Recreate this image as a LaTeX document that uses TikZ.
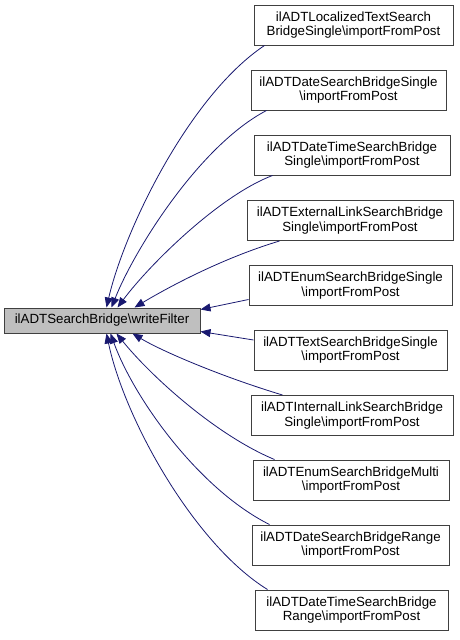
\documentclass[tikz,border=0pt]{standalone}
\usepackage{fontspec}
\setmainfont{Liberation Sans}
\usetikzlibrary{arrows.meta}
\definecolor{edgeblue}{HTML}{191970}
\definecolor{boxgray}{HTML}{BFBFBF}
\definecolor{linegray}{HTML}{404040}

\begin{document}
\begin{tikzpicture}[x=1pt, y=-1pt,
    >={Triangle[length=10pt,width=8pt]},
    fn/.style={draw=linegray, line width=1pt, fill=white, align=center, minimum height=40pt,
        inner sep=0pt, font=\fontsize{13.3}{14.5}\selectfont},
    call/.style={<-, draw=edgeblue, line width=0.8pt}]
\useasboundingbox (0,0) rectangle (459,640);

    % caller
    \node[fn, fill=boxgray, minimum width=196pt, minimum height=25pt] (wf) at (102,320.5)
        {ilADTSearchBridge\textbackslash writeFilter};

    % callees
    \node[fn, minimum width=199pt] (b1) at (353.5,25) {ilADTLocalizedTextSearch\\BridgeSingle\textbackslash importFromPost};
    \node[fn, minimum width=195pt] (b2) at (348.5,90) {ilADTDateSearchBridgeSingle\\\textbackslash importFromPost};
    \node[fn, minimum width=196pt] (b3) at (352,155) {ilADTDateTimeSearchBridge\\Single\textbackslash importFromPost};
    \node[fn, minimum width=206pt] (b4) at (350,220.5) {ilADTExternalLinkSearchBridge\\Single\textbackslash importFromPost};
    \node[fn, minimum width=203pt] (b5) at (350.5,285.5) {ilADTEnumSearchBridgeSingle\\\textbackslash importFromPost};
    \node[fn, minimum width=193pt] (b6) at (350.5,350) {ilADTTextSearchBridgeSingle\\\textbackslash importFromPost};
    \node[fn, minimum width=202pt] (b7) at (352,415.5) {ilADTInternalLinkSearchBridge\\Single\textbackslash importFromPost};
    \node[fn, minimum width=196pt] (b8) at (351,480) {ilADTEnumSearchBridgeMulti\\\textbackslash importFromPost};
    \node[fn, minimum width=197pt] (b9) at (350.5,545) {ilADTDateSearchBridgeRange\\\textbackslash importFromPost};
    \node[fn, minimum width=193pt] (b10) at (351.5,610) {ilADTDateTimeSearchBridge\\Range\textbackslash importFromPost};

    % edges above
    \draw[call] ([xshift=103pt]wf.north west) .. controls +(18,-78) and +(-75,50) .. ([xshift=11pt]b1.south west);
    \draw[call] ([xshift=108pt]wf.north west) .. controls +(23,-58) and +(-67,35) .. ([xshift=16pt]b2.south west);
    \draw[call] ([xshift=114pt]wf.north west) .. controls +(32,-43) and +(-53,20) .. ([xshift=19pt]b3.south west);
    \draw[call] ([xshift=131pt]wf.north west) .. controls +(30,-18) and +(-60,18) .. ([xshift=33pt]b4.south west);
    \draw[call] ([yshift=-2pt]wf.north east) -- ([yshift=-14pt]b5.west);
    \draw[call] ([yshift=2pt]wf.south east) -- ([yshift=10pt]b6.west);

    % edges below
    \draw[call] ([xshift=129pt]wf.south west) .. controls +(30,18) and +(-60,-18) .. ([xshift=32pt]b7.north west);
    \draw[call] ([xshift=113pt]wf.south west) .. controls +(33,41) and +(-60,-25) .. ([xshift=22pt]b8.north west);
    \draw[call] ([xshift=107pt]wf.south west) .. controls +(24,66) and +(-70,-35) .. ([xshift=18pt]b9.north west);
    \draw[call] ([xshift=103pt]wf.south west) .. controls +(18,86) and +(-73,-45) .. ([xshift=13pt]b10.north west);

\end{tikzpicture}
\end{document}
